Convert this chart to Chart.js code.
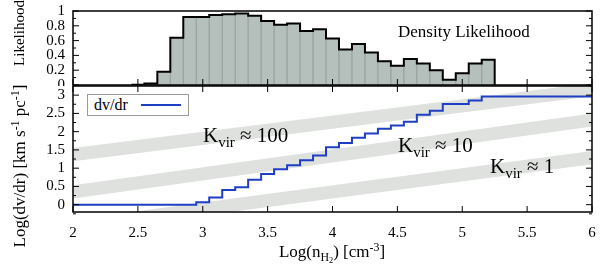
<!DOCTYPE html>
<html>
<head>
<meta charset="utf-8">
<script src="https://cdn.jsdelivr.net/npm/chart.js@4.4.0/dist/chart.umd.min.js"></script>
<style>
  body { margin: 0; background: #fff; }
  #wrap { position: relative; width: 600px; height: 269px; overflow: hidden;
          font-family: "Liberation Serif", "DejaVu Serif", serif; color: #000; }
  canvas { position: absolute; left: 0; }
  .lbl { position: absolute; white-space: nowrap; line-height: 1; }
  .rot { position: absolute; white-space: nowrap; line-height: 1;
         transform: translate(-50%, -50%) rotate(-90deg); }
  .kv { font-size: 21px; }
  .kv span { font-size: 15px; position: relative; top: 5px; }
  sup { font-size: 0.7em; vertical-align: 0; position: relative; top: -0.5em; }
  sub { font-size: 0.7em; vertical-align: 0; position: relative; top: 0.3em; }
  #legend { position: absolute; left: 87px; top: 94px; width: 100px; height: 20px;
            border: 1px solid #999; background: #fff; }
  #legend .t { position: absolute; left: 6px; top: 2px; font-size: 16px; line-height: 1; }
  #legend .l { position: absolute; left: 53px; top: 9px; width: 40px; height: 2px; background: #1e3fc4; }
</style>
</head>
<body>
<div id="wrap">
  <canvas id="top" width="600" height="86" style="top:0"></canvas>
  <canvas id="bot" width="600" height="184" style="top:85px"></canvas>

  <div class="lbl" style="left:398px; top:23px; font-size:17px;">Density Likelihood</div>
  <div class="lbl kv" style="left:203px; top:125px;">K<span>vir</span> ≈ 100</div>
  <div class="lbl kv" style="left:398px; top:135px;">K<span>vir</span> ≈ 10</div>
  <div class="lbl kv" style="left:490px; top:156px;">K<span>vir</span> ≈ 1</div>
  <div class="lbl" style="left:332px; top:243px; font-size:17px; transform:translateX(-50%);">Log(n<sub>H<sub>2</sub></sub>) [cm<sup>-3</sup>]</div>
  <div class="rot" style="left:19px; top:166px; font-size:17px;">Log(dv/dr) [km s<sup>-1</sup> pc<sup>-1</sup>]</div>
  <div class="rot" style="left:19px; top:33px; font-size:15px;">Likelihood</div>

  <div id="legend"><div class="t">dv/dr</div><div class="l"></div></div>
</div>
<script>
// density likelihood histogram, bins 0.1 dex wide (left edges)
const binLo = [2.45, 2.55, 2.65, 2.75, 2.85, 2.95, 3.05, 3.15, 3.25, 3.35,
               3.45, 3.55, 3.65, 3.75, 3.85, 3.95, 4.05, 4.15, 4.25, 4.35,
               4.45, 4.55, 4.65, 4.75, 4.85, 4.95, 5.05, 5.15];
const likelihood = [0.005, 0.02, 0.18, 0.64, 0.92, 0.92, 0.945, 0.955, 0.965, 0.935,
                    0.865, 0.815, 0.83, 0.73, 0.755, 0.63, 0.48, 0.555, 0.44, 0.32,
                    0.26, 0.35, 0.29, 0.20, 0.07, 0.16, 0.29, 0.34];
const binWidth = 0.1;

// dv/dr step line
const dvX = [2, 2.95, 3.05, 3.15, 3.25, 3.35, 3.45, 3.55, 3.65, 3.75, 3.85, 3.95,
             4.05, 4.15, 4.25, 4.35, 4.45, 4.55, 4.65, 4.75, 4.85, 5.05, 5.15, 6];
const dvY = [0, 0.07, 0.2, 0.4, 0.48, 0.68, 0.84, 0.97, 1.08, 1.22, 1.35, 1.57,
             1.69, 1.83, 1.95, 2.08, 2.17, 2.27, 2.46, 2.57, 2.76, 2.85, 2.96, 2.96];

// Kvir bands (lower / upper edge at x = 2 and x = 6)
const bandX = [2, 6];
const kvir100Lo = [1.19, 2.97], kvir100Hi = [1.55, 3.33];
const kvir10Lo = [0.17, 2.14], kvir10Hi = [0.53, 2.50];
const kvir1Lo = [-0.77, 1.11], kvir1Hi = [-0.41, 1.47];

// ticks
const xTicks = [2, 2.5, 3, 3.5, 4, 4.5, 5, 5.5, 6];
const likeTicks = [0, 0.2, 0.4, 0.6, 0.8, 1];
const likeMinor = [0.1, 0.3, 0.5, 0.7, 0.9];
const dvTicks = [0, 0.5, 1, 1.5, 2, 2.5, 3];
const dvMinor = [-0.25, 0.25, 0.75, 1.25, 1.75, 2.25, 2.75, 3.25];

const tickFont = { family: 'Liberation Serif', size: 15 };
const bandColor = '#dee1de';
const blue = '#1e3fc4';

const pts = (xs, ys) => xs.map((x, i) => ({ x: x, y: ys[i] }));
const setTicks = vals => scale => { scale.ticks = vals.map(v => ({ value: v })); };
const tickOpts = pad => ({ font: tickFont, color: '#000', padding: pad, autoSkip: false, maxRotation: 0,
                           callback: v => String(v) });

// box + inward ticks
const frame = {
    id: 'frame',
    afterDatasetsDraw(chart, args, o) {
        const { ctx, chartArea: a, scales: { x, y } } = chart;
        ctx.save();
        ctx.strokeStyle = '#000';
        ctx.lineWidth = 1;
        ctx.beginPath();
        o.yMinor.forEach(v => {
            const p = y.getPixelForValue(v);
            ctx.moveTo(a.left, p); ctx.lineTo(a.left + 3, p);
            ctx.moveTo(a.right, p); ctx.lineTo(a.right - 3, p);
        });
        o.yMajor.forEach(v => {
            const p = y.getPixelForValue(v);
            ctx.moveTo(a.left, p); ctx.lineTo(a.left + 6, p);
            ctx.moveTo(a.right, p); ctx.lineTo(a.right - 6, p);
        });
        xTicks.forEach(v => {
            const p = x.getPixelForValue(v);
            if (o.bottom) { ctx.moveTo(p, a.bottom); ctx.lineTo(p, a.bottom - 6); }
            if (o.top) { ctx.moveTo(p, a.top); ctx.lineTo(p, a.top + 6); }
        });
        ctx.stroke();
        ctx.lineWidth = 1.5;
        ctx.strokeRect(a.left, a.top, a.right - a.left, a.bottom - a.top);
        ctx.restore();
    }
};

// ---- top panel: likelihood histogram
new Chart(document.getElementById('top').getContext('2d'), {
    type: 'bar',
    data: {
        datasets: [
            {
                type: 'line',
                data: pts(binLo.concat([binLo[binLo.length - 1] + binWidth]), likelihood.concat([0])),
                stepped: true,
                borderColor: '#000',
                borderWidth: 2,
                pointRadius: 0,
                fill: false
            },
            {
                type: 'bar',
                data: pts(binLo.map(v => v + binWidth / 2), likelihood),
                backgroundColor: '#b5c0bd',
                borderColor: '#9aa5a2',
                borderWidth: { left: 1, right: 1, top: 0, bottom: 0 },
                borderSkipped: false,
                barPercentage: 1,
                categoryPercentage: 1
            }
        ]
    },
    options: {
        responsive: false,
        animation: false,
        devicePixelRatio: 1,
        layout: { padding: { left: 0, right: 8, top: 11, bottom: 1 } },
        plugins: {
            legend: { display: false },
            tooltip: { enabled: false },
            frame: { yMajor: likeTicks, yMinor: likeMinor, bottom: true, top: false }
        },
        scales: {
            x: { type: 'linear', min: 2, max: 6, offset: false, display: false },
            y: {
                min: 0, max: 1,
                afterBuildTicks: setTicks(likeTicks),
                afterFit: s => { s.width = 73; s.paddingTop = 0; s.paddingBottom = 0; },
                grid: { display: false, drawTicks: false },
                border: { display: false },
                ticks: tickOpts(8)
            }
        }
    },
    plugins: [frame]
});

// ---- bottom panel: dv/dr
new Chart(document.getElementById('bot').getContext('2d'), {
    type: 'line',
    data: {
        datasets: [
            { label: 'dv/dr', data: pts(dvX, dvY), stepped: true, borderColor: blue, borderWidth: 2, pointRadius: 0, fill: false },
            { data: pts(bandX, kvir100Lo), borderWidth: 0, pointRadius: 0, fill: false },
            { data: pts(bandX, kvir100Hi), borderWidth: 0, pointRadius: 0, fill: '-1', backgroundColor: bandColor },
            { data: pts(bandX, kvir10Lo), borderWidth: 0, pointRadius: 0, fill: false },
            { data: pts(bandX, kvir10Hi), borderWidth: 0, pointRadius: 0, fill: '-1', backgroundColor: bandColor },
            { data: pts(bandX, kvir1Lo), borderWidth: 0, pointRadius: 0, fill: false },
            { data: pts(bandX, kvir1Hi), borderWidth: 0, pointRadius: 0, fill: '-1', backgroundColor: bandColor }
        ]
    },
    options: {
        responsive: false,
        animation: false,
        devicePixelRatio: 1,
        layout: { padding: { left: 0, right: 8, top: 1, bottom: 0 } },
        plugins: {
            legend: { display: false },
            tooltip: { enabled: false },
            frame: { yMajor: dvTicks, yMinor: dvMinor, bottom: true, top: true }
        },
        scales: {
            x: {
                type: 'linear', min: 2, max: 6,
                afterBuildTicks: setTicks(xTicks),
                afterFit: s => { s.height = 57; s.paddingLeft = 0; s.paddingRight = 0; },
                grid: { display: false, drawTicks: false },
                border: { display: false },
                ticks: tickOpts(12)
            },
            y: {
                min: -0.2, max: 3.25,
                afterBuildTicks: setTicks(dvTicks),
                afterFit: s => { s.width = 73; s.paddingTop = 0; s.paddingBottom = 0; },
                grid: { display: false, drawTicks: false },
                border: { display: false },
                ticks: tickOpts(8)
            }
        }
    },
    plugins: [frame]
});
</script>
</body>
</html>
